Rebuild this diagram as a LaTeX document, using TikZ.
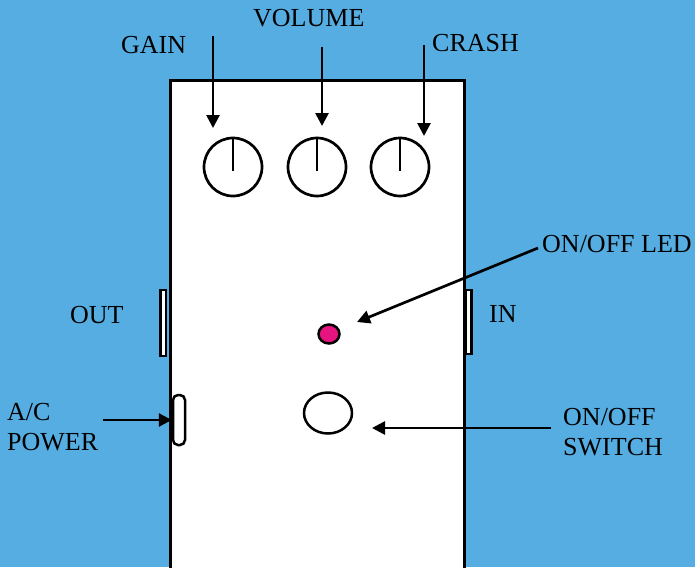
\documentclass[tikz,border=0pt]{standalone}
\usepackage{fontspec}
\setmainfont{Liberation Serif}
\usetikzlibrary{positioning,arrows.meta,shapes.geometric}
\definecolor{pedalbg}{RGB}{85,173,226}
\definecolor{ledpink}{RGB}{229,20,127}

\begin{document}
\begin{tikzpicture}[x=1pt, y=-1pt,
  font=\fontsize{26}{30}\selectfont,
  line/.style={-{Triangle[length=13pt,width=13pt]}, line width=2.7pt, draw=black},
  knob/.style={circle, draw=black, fill=white, line width=2.7pt, minimum size=58pt, inner sep=0pt},
  jack/.style={rectangle, draw=black, fill=white, line width=2.5pt, inner sep=0pt},
  lamp/.style={ellipse, draw=black, line width=2.5pt, inner sep=0pt},
  lbl/.style={inner sep=0pt, anchor=base west, text=black},
  twoline/.style={inner sep=0pt, anchor=west, align=left, text=black}
]
\clip (0,0) rectangle (695,567);
\fill[pedalbg] (0,0) rectangle (695,567);

% pedal body
\node[draw=black, fill=white, line width=2.7pt, anchor=north west, inner sep=0pt,
  minimum width=294pt, minimum height=520pt] (body) at (169,79) {};

% knobs
\node[knob] (gain) at (233,167) {};
\node[knob] (volume) at (317,167) {};
\node[knob] (crash) at (400,167) {};
\draw[line width=2.7pt] (gain.north) -- ([yshift=-4pt]gain.center);
\draw[line width=2.7pt] (volume.north) -- ([yshift=-4pt]volume.center);
\draw[line width=2.7pt] (crash.north) -- ([yshift=-4pt]crash.center);

% jacks, power, led, switch
\node[jack, minimum width=5.5pt, minimum height=66pt] (outJack) at (163,323) {};
\node[jack, minimum width=5.5pt, minimum height=64pt] (inJack) at (468.5,322) {};
\node[jack, rounded corners=5pt, minimum width=12pt, minimum height=50pt] (power) at (179,420) {};
\node[lamp, fill=ledpink, minimum width=21pt, minimum height=19pt] (led) at (329,334) {};
\node[lamp, fill=white, minimum width=48pt, minimum height=41pt] (switch) at (328,413) {};

% labels
\node[lbl] (gainLbl) at (121,54) {GAIN};
\node[lbl] (volumeLbl) at (253,27) {VOLUME};
\node[lbl] (crashLbl) at (432,52) {CRASH};
\node[lbl] (ledLbl) at (542,252) {ON/OFF LED};
\node[lbl] (outLbl) at (70,323) {OUT};
\node[lbl] (inLbl) at (489,322) {IN};
\node[twoline] (powerLbl) at (7,427) {A/C\\POWER};
\node[twoline] (switchLbl) at (563,432) {ON/OFF\\SWITCH};

% pointers
\coordinate (gainTail) at (213,36);
\coordinate (gainTip) at (213,128);
\coordinate (volumeTail) at (322,47);
\coordinate (volumeTip) at (322,126);
\coordinate (crashTail) at (424,45);
\coordinate (crashTip) at (424,136);
\coordinate (ledTail) at (538,248);
\coordinate (ledTip) at (357,322);
\coordinate (switchTail) at (551,428);
\coordinate (switchTip) at (372,428);
\coordinate (powerTail) at (103,420);

\draw[line] (gainTail) -- (gainTip);
\draw[line] (volumeTail) -- (volumeTip);
\draw[line] (crashTail) -- (crashTip);
\draw[line] (ledTail) -- (ledTip);
\draw[line] (switchTail) -- (switchTip);
\draw[line] (powerTail) -- (power.west);
\end{tikzpicture}
\end{document}
